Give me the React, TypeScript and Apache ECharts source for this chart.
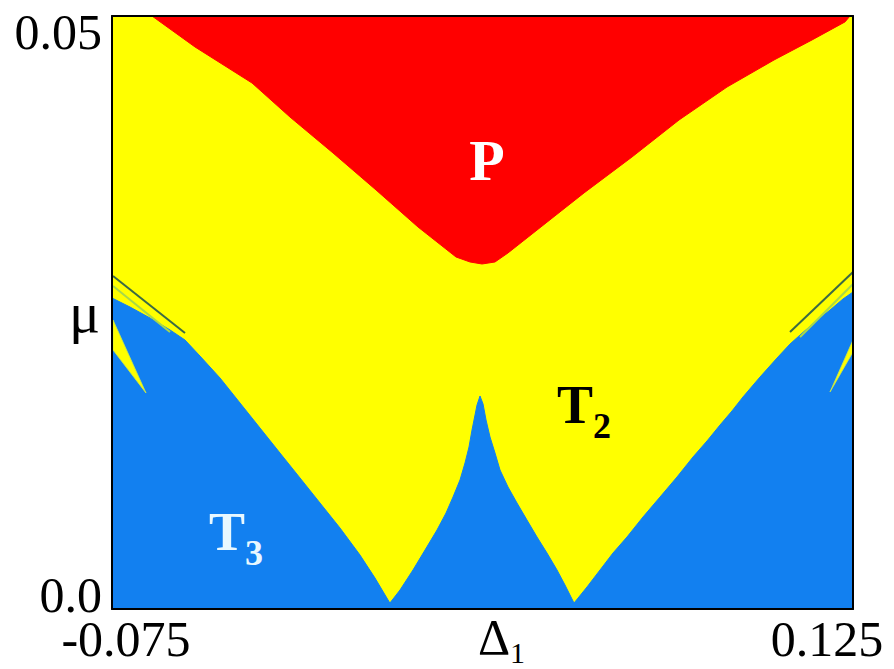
import React, { useEffect, useRef } from 'react';
import * as echarts from 'echarts';

// Axis ranges and tick labels
const xRange = [-0.075, 0.125];
const yRange = [0, 0.05];
const xTicks = [-0.075, 0.125];
const yTicks = [0, 0.05];
const xTickLabels = ['-0.075', '0.125'];
const yTickLabels = ['0.0', '0.05'];

// Boundary of the P region (red, filled up to mu = 0.05)
const pBoundary: [number, number][] = [
  [-0.0642, 0.05], [-0.0526, 0.04739], [-0.03721, 0.04435], [-0.02696, 0.04148],
  [-0.01535, 0.03845], [-0.00374, 0.03533], [0.00759, 0.03221], [0.01785, 0.02968],
  [0.02163, 0.02926], [0.02487, 0.02909], [0.02838, 0.02926], [0.03188, 0.03002],
  [0.04214, 0.03255], [0.0524, 0.03508], [0.06535, 0.03811], [0.07804, 0.04123],
  [0.09099, 0.04401], [0.10368, 0.04629], [0.11394, 0.04798], [0.12284, 0.0495],
  [0.12419, 0.05],
];

// Boundary of the T3 region (blue, filled down to mu = 0)
const t3Boundary: [number, number][] = [
  [-0.075, 0.02622], [-0.07014, 0.02546], [-0.06474, 0.02454], [-0.05935, 0.02353],
  [-0.0553, 0.02268], [-0.05125, 0.02133], [-0.04585, 0.01948], [-0.04045, 0.01737],
  [-0.03505, 0.01526], [-0.02966, 0.01315], [-0.02426, 0.01105], [-0.01886, 0.00894],
  [-0.01346, 0.00683], [-0.00806, 0.00455], [-0.00401, 0.00261], [0.0, 0.0005],
  [0.00273, 0.0016], [0.00624, 0.00329], [0.00948, 0.00497], [0.01272, 0.00666],
  [0.01515, 0.00809], [0.01704, 0.00944], [0.01893, 0.01088], [0.02028, 0.01231],
  [0.02136, 0.01366], [0.02217, 0.01509], [0.02298, 0.01636], [0.02352, 0.0172],
  [0.02433, 0.01796],
  [0.02514, 0.01729], [0.02595, 0.01594], [0.02703, 0.0145], [0.02838, 0.01315],
  [0.02973, 0.01172], [0.03188, 0.01029], [0.03431, 0.00894], [0.03701, 0.0075],
  [0.03971, 0.00607], [0.04241, 0.00472], [0.04511, 0.00329], [0.04727, 0.00202],
  [0.0497, 0.0005],
  [0.05321, 0.00186], [0.05672, 0.00329], [0.06022, 0.00472], [0.064, 0.00607],
  [0.06832, 0.00776], [0.07291, 0.00944], [0.0775, 0.01113], [0.08182, 0.01282],
  [0.0856, 0.01417], [0.0891, 0.01551], [0.09234, 0.0167], [0.09531, 0.01788],
  [0.0999, 0.01956], [0.10449, 0.02116], [0.108, 0.02234], [0.1107, 0.0231],
  [0.11475, 0.0242], [0.1188, 0.02521], [0.1223, 0.02614], [0.125, 0.02673],
];

// Thin T2 tongues reaching into T3 near the edges
const t2Tongues: [number, number][][] = [
  [[-0.07473, 0.02437], [-0.06582, 0.01821], [-0.07473, 0.02184]],
  [[0.125, 0.02268], [0.1188, 0.0183], [0.125, 0.02167]],
];

// Fine striations along the T2/T3 border near the edges
const stripes: { pts: [number, number][]; color: string }[] = [
  { pts: [[-0.07473, 0.02808], [-0.0553, 0.02327]], color: '#3b6a45' },
  { pts: [[-0.07473, 0.02724], [-0.05935, 0.02336]], color: '#a8d84a' },
  { pts: [[0.108, 0.02336], [0.125, 0.02842]], color: '#3b6a45' },
  { pts: [[0.1107, 0.02293], [0.125, 0.0274]], color: '#a8d84a' },
];

// Region annotations
const regionNames = ['P', 'T2', 'T3'];
const regionPos: [number, number][] = [[0.02622, 0.03783], [0.0524, 0.01723], [-0.04153, 0.00652]];

const SERIF = '"Liberation Serif", "Times New Roman", Times, serif';
const YELLOW = '#FFFF00';
const RED = '#FF0000';
const BLUE = '#1280F0';

export default function App() {
  const ref = useRef<HTMLDivElement>(null);
  useEffect(() => {
    const chart = echarts.init(ref.current!, null, { renderer: 'svg' });
    const labelRich = (color: string) => ({
      p: { fontFamily: SERIF, fontWeight: 'bold', fontSize: 58, lineHeight: 58, color, opacity: 1 },
      t: { fontFamily: SERIF, fontWeight: 'bold', fontSize: 54, lineHeight: 54, color, opacity: 1, verticalAlign: 'top' },
      s: { fontFamily: SERIF, fontWeight: 'bold', fontSize: 36, lineHeight: 36, color, opacity: 1, verticalAlign: 'top', padding: [30, 0, 0, 0] },
    });
    const regionColors = ['#FFFFFF', '#000000', '#E8F8FF'];
    const tick = { fontFamily: SERIF, fontSize: 50, lineHeight: 36, color: '#000' };
    const option: any = {
      animation: false,
      grid: {
        left: 112, right: 41, top: 16, bottom: 60,
        containLabel: false, outerBoundsMode: 'none',
        show: true, backgroundColor: YELLOW, borderWidth: 0,
      },
      xAxis: [
        {
          type: 'value', min: xRange[0], max: xRange[1], position: 'bottom', z: 10,
          axisLine: { show: true, onZero: false, lineStyle: { color: '#000', width: 2 } },
          axisTick: { show: false }, splitLine: { show: false },
          axisLabel: {
            customValues: xTicks, margin: 12,
            formatter: (v: number) => {
              const i = xTicks.findIndex((t) => Math.abs(t - v) < 1e-9);
              return i === 0 ? `{a|${xTickLabels[0]}}` : `{b|${xTickLabels[1]}}`;
            },
            rich: {
              a: { ...tick, padding: [0, 0, 0, 28] },
              b: { ...tick, padding: [0, 52, 0, 0] },
            },
          },
          name: '{d|Δ}{s|1}', nameLocation: 'middle', nameGap: 3, nameMoveOverlap: false,
          nameTextStyle: {
            padding: [0, 0, 0, 38],
            rich: {
              d: { fontFamily: SERIF, fontSize: 50, lineHeight: 50, color: '#000', verticalAlign: 'top' },
              s: { fontFamily: SERIF, fontSize: 30, lineHeight: 30, color: '#000', verticalAlign: 'top', padding: [25, 0, 0, 0] },
            },
          },
        },
        {
          type: 'value', min: xRange[0], max: xRange[1], position: 'top', z: 10,
          axisLine: { show: true, onZero: false, lineStyle: { color: '#000', width: 2 } },
          axisTick: { show: false }, splitLine: { show: false }, axisLabel: { show: false },
        },
      ],
      yAxis: [
        {
          type: 'value', min: yRange[0], max: yRange[1], position: 'left', z: 10,
          axisLine: { show: true, onZero: false, lineStyle: { color: '#000', width: 2 } },
          axisTick: { show: false }, splitLine: { show: false },
          axisLabel: {
            customValues: yTicks, margin: 10,
            formatter: (v: number) => (v === 0 ? `{b|${yTickLabels[0]}}` : `{a|${yTickLabels[1]}}`),
            rich: {
              a: { ...tick, padding: [32, 0, 0, 0] },
              b: { ...tick, padding: [0, 0, 28, 0] },
            },
          },
          name: 'μ', nameLocation: 'middle', nameRotate: 0, nameGap: 12, nameMoveOverlap: false,
          nameTextStyle: { fontFamily: SERIF, fontSize: 58, color: '#000' },
        },
        {
          type: 'value', min: yRange[0], max: yRange[1], position: 'right', z: 10,
          axisLine: { show: true, onZero: false, lineStyle: { color: '#000', width: 2 } },
          axisTick: { show: false }, splitLine: { show: false }, axisLabel: { show: false },
        },
      ],
      series: [
        {
          type: 'line', data: t3Boundary, symbol: 'none', z: 2,
          lineStyle: { color: BLUE, width: 1 },
          areaStyle: { color: BLUE, opacity: 1, origin: 'start' },
        },
        {
          type: 'line', data: pBoundary, symbol: 'none', z: 2,
          lineStyle: { color: RED, width: 1 },
          areaStyle: { color: RED, opacity: 1, origin: 'end' },
        },
        {
          type: 'custom', z: 3,
          data: t2Tongues.map((p) => p[0]),
          renderItem: (params: any, api: any) => ({
            type: 'polygon',
            shape: { points: t2Tongues[params.dataIndex].map((p) => api.coord(p)) },
            style: { fill: YELLOW, stroke: '#c8e84a', lineWidth: 0.8 },
          }),
        },
        ...stripes.map((s) => ({
          type: 'line', data: s.pts, symbol: 'none', z: 3,
          lineStyle: { color: s.color, width: 2 },
        })),
        {
          type: 'scatter', z: 5, symbolSize: 0,
          itemStyle: { opacity: 1 },
          data: regionPos.map((p, i) => ({
            value: p,
            label: {
              show: true, position: 'inside', opacity: 1,
              formatter: regionNames[i].length === 1 ? `{p|${regionNames[i]}}` : `{t|${regionNames[i][0]}}{s|${regionNames[i][1]}}`,
              rich: labelRich(regionColors[i]),
            },
          })),
        },
      ],
    };
    chart.setOption(option);
    return () => chart.dispose();
  }, []);
  return <div ref={ref} style={{ position: 'absolute', left: 0, top: 0, width: 894, height: 669 }} />;
}
